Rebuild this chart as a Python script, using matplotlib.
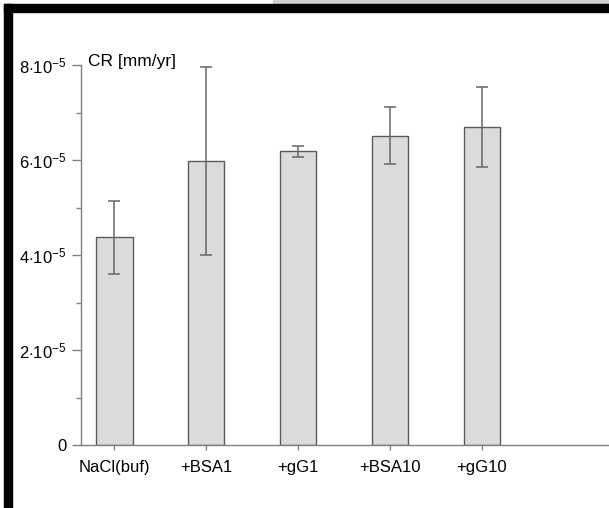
import matplotlib
matplotlib.use("Agg")
import matplotlib.pyplot as plt
from matplotlib.patches import Rectangle
from matplotlib.ticker import MultipleLocator

# ── Data ──────────────────────────────────────────────────────────────────────
groups   = ["NaCl(buf)", "+BSA1", "+gG1", "+BSA10", "+gG10"]
cr_mean  = [4.37e-5, 5.98e-5, 6.18e-5, 6.51e-5, 6.70e-5]
cr_err   = [0.76e-5, 1.98e-5, 0.12e-5, 0.60e-5, 0.84e-5]
y_ticks  = [0, 2e-5, 4e-5, 6e-5, 8e-5]
y_labels = ["0", r"$2{\cdot}10^{-5}$", r"$4{\cdot}10^{-5}$",
            r"$6{\cdot}10^{-5}$", r"$8{\cdot}10^{-5}$"]

# ── Style ─────────────────────────────────────────────────────────────────────
plt.rcParams["font.family"] = ["Liberation Sans", "DejaVu Sans"]
plt.rcParams["mathtext.fontset"] = "custom"
plt.rcParams["mathtext.rm"] = "Liberation Sans"
plt.rcParams["mathtext.it"] = "Liberation Sans"

AXIS_GRAY = "#808080"

fig = plt.figure(figsize=(6.09, 5.08), dpi=100)
ax = fig.add_axes([81 / 609, 1 - 445 / 508, 1 - 81 / 609, 380 / 508])

x = list(range(len(groups)))
ax.bar(x, cr_mean, width=0.4, color="#dcdcdc", edgecolor="#5a5a5a",
       linewidth=1.0, zorder=2)
ax.errorbar(x, cr_mean, yerr=cr_err, fmt="none", ecolor="#666666",
            elinewidth=1.1, capsize=4.3, capthick=1.1, zorder=3)

ax.set_xlim(-0.36, 5.38)
ax.set_ylim(0, 8e-5)

ax.set_xticks(x)
ax.set_xticklabels(groups, fontsize=12)
ax.set_yticks(y_ticks)
ax.set_yticklabels(y_labels, fontsize=12)
ax.yaxis.set_minor_locator(MultipleLocator(1e-5))

ax.tick_params(axis="y", which="major", length=6.5, width=1.0,
               color=AXIS_GRAY, pad=4)
ax.tick_params(axis="y", which="minor", length=3.6, width=1.0,
               color=AXIS_GRAY)
ax.tick_params(axis="x", which="major", length=3.6, width=1.0,
               color=AXIS_GRAY, pad=7)

for side in ["top", "right"]:
    ax.spines[side].set_visible(False)
for side in ["left", "bottom"]:
    ax.spines[side].set_color(AXIS_GRAY)
    ax.spines[side].set_linewidth(1.0)

ax.text(0.013, 1.01, "CR [mm/yr]", transform=ax.transAxes, fontsize=12.5,
        ha="left", va="center")

# ── Frame decoration (screenshot border) ──────────────────────────────────────
W, H = 609, 508
fig.patches.append(Rectangle((273 / W, 1 - 4 / H), 1, 4 / H,
                             transform=fig.transFigure, color="#d0d0d0",
                             zorder=10))
fig.patches.append(Rectangle((4 / W, 1 - 12 / H), 1, 8 / H,
                             transform=fig.transFigure, color="black",
                             zorder=10))
fig.patches.append(Rectangle((4 / W, 0), 8 / W, 1 - 4 / H,
                             transform=fig.transFigure, color="black",
                             zorder=10))

fig.savefig("out.png", dpi=100)
